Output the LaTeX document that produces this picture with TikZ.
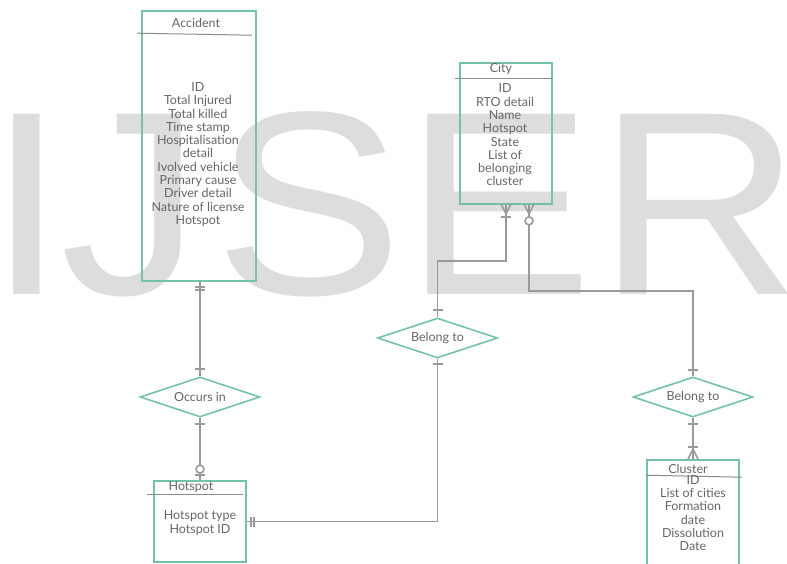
\documentclass[tikz,border=0pt]{standalone}
\usepackage{fontspec}
\setmainfont{Lato}
\newfontfamily\wmfont{Liberation Sans}
\usetikzlibrary{shapes.geometric, calc}

\definecolor{erGreen}{HTML}{74C3A2}
\definecolor{erLine}{HTML}{9A9A9A}
\definecolor{erText}{HTML}{666666}
\definecolor{wmGray}{HTML}{DDDDDD}

\begin{document}
\begin{tikzpicture}[
    x=1pt, y=-1pt,
    font=\fontsize{12.5}{13.3}\selectfont, text=erText,
    entity/.style={rectangle, draw=erGreen, line width=1.6pt, inner sep=0pt},
    relation/.style={diamond, draw=erGreen, line width=1.6pt, inner sep=0pt,
                     aspect=3, minimum width=120pt, minimum height=40pt},
    attrs/.style={align=center, inner sep=0pt},
    ttl/.style={inner sep=0pt},
    hline/.style={draw=erLine!90!black, line width=1pt},
    conn/.style={draw=erLine, line width=1.6pt},
    wm/.style={font=\wmfont\fontsize{262}{262}\selectfont, text=wmGray,
               inner sep=0pt, anchor=base west},
    onebar/.pic={\draw[conn] (-5,0) -- (5,0);},
    ringmark/.pic={\draw[conn, fill=white] (0,0) circle[radius=4pt];},
    crowfoot/.pic={\draw[conn] (-5,10) -- (0,0) -- (5,10);}
]
\useasboundingbox (0,0) rectangle (787,563);
\clip (0,0) rectangle (787,563);

% watermark
\node[wm] (wI) at (-13,294) {\scalebox{1.08}[1]{I}};
\node[wm] (wJ) at (60,294)  {\scalebox{1.08}[1]{J}};
\node[wm] (wS) at (214,294) {\scalebox{1.08}[1]{S}};
\node[wm] (wE) at (404,294) {\scalebox{1.08}[1]{E}};
\node[wm] (wR) at (597,294) {\scalebox{1.08}[1]{R}};

% entities
\node[entity, minimum width=114pt, minimum height=270pt] (acc)  at (199,146)   {};
\node[entity, minimum width=92pt,  minimum height=141pt] (city) at (506,133.5) {};
\node[entity, minimum width=92pt,  minimum height=81pt]  (hot)  at (200,521.5) {};
\node[entity, minimum width=92pt,  minimum height=110pt] (clu)  at (693,515)   {};

\node[ttl] (accT)  at (196,23)  {Accident};
\node[ttl] (cityT) at (501,69)  {City};
\node[ttl] (hotT)  at (191,487) {Hotspot};
\node[ttl] (cluT)  at (688,469) {Cluster};

\draw[hline] ($(acc.north west)+(-4,23)$)  -- ($(acc.north east)+(-5,25)$);
\draw[hline] ($(city.north west)+(-4,16)$) -- ($(city.north east)+(0,16)$);
\draw[hline] ($(hot.north west)+(-6,14)$)  -- ($(hot.north east)+(-4,14)$);
\draw[hline] ($(clu.north west)+(0,16)$)   -- ($(clu.north east)+(2,18)$);

\node[attrs] (accA)  at (198,154.5) {ID\\Total Injured\\Total killed\\Time stamp\\Hospitalisation\\detail\\Ivolved vehicle\\Primary cause\\Driver detail\\Nature of license\\Hotspot};
\node[attrs] (cityA) at (505,135)   {ID\\RTO detail\\Name\\Hotspot\\State\\List of\\belonging\\cluster};
\node[attrs] (hotA)  at (200,523) {Hotspot type\\Hotspot ID};
\node[attrs] (cluA)  at (693,513) {ID\\List of cities\\Formation\\date\\Dissolution\\Date};

% relationships
\node[relation] (occ)  at (200,397)   {Occurs in};
\node[relation] (bel1) at (437.5,338) {Belong to};
\node[relation] (bel2) at (693,397)   {Belong to};

% connectors
\draw[conn] (occ.north |- acc.south) -- (occ.north);
\draw[conn] (occ.south) -- (hot.north);
\draw[conn] (hot.east) -| (bel1.south);
\draw[conn] (city.south) -- ++(0,56) -| (bel1.north);
\draw[conn] ($(city.south)+(23,0)$) -- ++(0,86) -| (bel2.north);
\draw[conn] (bel2.south) -- (clu.north);

% cardinality marks
\pic at ($(occ.north |- acc.south)+(0,5)$) {onebar};
\pic at ($(occ.north |- acc.south)+(0,8)$) {onebar};
\pic at ($(occ.north)+(0,-7)$) {onebar};
\pic at ($(occ.south)+(0,6)$)  {onebar};
\pic at ($(hot.north)+(0,-5)$) {onebar};
\pic at ($(hot.north)+(0,-11)$) {ringmark};

\pic[rotate=90] at ($(hot.east)+(4,0)$) {onebar};
\pic[rotate=90] at ($(hot.east)+(7,0)$) {onebar};
\pic at ($(bel1.south)+(0,5)$) {onebar};

\pic[rotate=180] at ($(city.south)+(0,9)$) {crowfoot};
\pic at ($(city.south)+(0,12)$) {onebar};
\pic at ($(bel1.north)+(0,-7)$) {onebar};

\pic[rotate=180] at ($(city.south)+(23,9)$) {crowfoot};
\pic at ($(city.south)+(23,16)$) {ringmark};
\pic at ($(bel2.north)+(0,-6)$) {onebar};

\pic at ($(bel2.south)+(0,6)$) {onebar};
\pic at ($(clu.north)+(0,-12)$) {onebar};
\pic at ($(clu.north)+(0,-10)$) {crowfoot};

\end{tikzpicture}
\end{document}
